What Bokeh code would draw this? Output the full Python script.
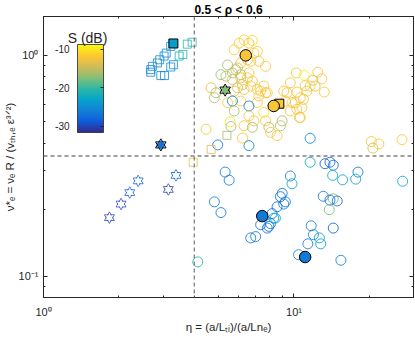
import numpy as np
from bokeh.plotting import figure
from bokeh.models import (ColumnDataSource, LinearColorMapper, ColorBar, Span, Label,
                          LogAxis, FixedTicker, Range1d)
from bokeh.transform import transform
from bokeh.embed import file_html
from bokeh.resources import INLINE

# ---------------- data (eta, nu*, S in dB) ----------------
circ_eta = [5.77, 6.04, 6.32, 6.61, 6.82, 7.14, 7.24, 7.70, 6.13, 6.52, 6.61, 6.82, 6.13, 5.86,
            5.68, 5.35, 5.11, 4.665, 4.81, 5.77, 6.32, 6.72, 7.36, 7.58, 7.24, 7.82, 6.13, 6.52,
            5.95, 5.95, 6.23, 6.92, 5.43, 5.68, 6.72, 4.88, 7.70, 7.14,
            5.43, 6.13, 7.14, 5.68, 6.61, 5.77, 5.56, 5.60, 6.23, 6.32, 6.61, 6.92, 6.82, 7.58,
            7.70, 7.94, 8.06, 8.56, 8.97, 8.83, 9.67, 10.59, 9.24, 10.59, 4.456, 4.96, 6.61,
            10.21, 10.98, 12.45, 12.9, 11.89, 11.08, 12.14, 13.21, 10.27, 10.91, 10.12, 10.76,
            10.52, 9.67, 9.10, 11.6, 11.26, 9.38, 9.82, 10.27,
            11.6, 20.36, 21.82, 20.65, 27.0,
            5.31, 5.51, 4.81, 5.11, 9.67, 9.82, 8.97, 8.83, 9.24, 8.56, 8.18, 8.30, 8.06, 7.36,
            7.82, 7.03, 6.72, 9.10, 8.43, 7.94, 4.13, 10.43, 11.6, 13.3, 13.92, 14.35, 14.27,
            15.63, 18.01, 17.64, 27.15, 13.09, 14.35, 13.92, 14.88, 13.83, 11.71, 14.35, 11.96,
            12.63, 11.36, 12.79, 15.39]
circ_nu = [1.06, 1.136, 1.175, 1.136, 1.168, 1.042, 0.94, 0.892, 0.924, 0.955, 0.833, 0.764, 0.818, 0.862,
           0.777, 0.805, 0.818, 0.713, 0.643, 0.689, 0.701, 0.726, 0.689, 0.726, 0.655, 0.677, 0.791, 0.791,
           0.877, 0.713, 0.738, 1.024, 0.905, 0.833, 0.94, 0.677, 0.677, 0.701,
           0.611, 0.621, 0.611, 0.621, 0.59, 0.56, 0.50, 0.476, 0.422, 0.48, 0.532, 0.505, 0.472, 0.551,
           0.505, 0.472, 0.448, 0.433, 0.505, 0.48, 0.56, 0.523, 0.621, 0.643, 0.463, 0.393, 0.39,
           0.833, 0.813, 0.839, 0.783, 0.772, 0.730, 0.726, 0.682, 0.682, 0.632, 0.611, 0.58,
           0.523, 0.751, 0.689, 0.726, 0.689, 0.677, 0.611, 0.57,
           0.421, 0.407, 0.397, 0.380, 0.415,
           0.296, 0.272, 0.217, 0.194, 0.284, 0.262, 0.237, 0.229, 0.217, 0.206, 0.192, 0.183, 0.173, 0.171,
           0.165, 0.151, 0.149, 0.212, 0.183, 0.168, 0.116, 0.125, 0.328, 0.323, 0.328, 0.318, 0.286,
           0.273, 0.296, 0.275, 0.269, 0.230, 0.224, 0.221, 0.219, 0.200, 0.169, 0.165, 0.154,
           0.149, 0.140, 0.140, 0.118]
circ_S = [-11.5, -11.5, -11, -11.5, -11, -12, -12, -12, -13.5, -12.5, -12, -12, -16, -15,
          -14, -15.5, -16.5, -13, -15.5, -13.5, -12.5, -12, -12, -12, -12, -12, -13.5, -12,
          -14, -14, -13, -11.5, -16, -16, -12.5, -16, -12, -12,
          -12, -12, -12, -25.5, -25.5, -16, -10, -16, -12, -12, -12, -12, -16, -10.5,
          -12, -15.5, -12, -12, -16, -15, -12, -12, -12, -12, -12, -26.5, -25.5,
          -12, -9.5, -12, -12, -13.5, -12, -13.5, -11.5, -12, -12, -12, -12,
          -12, -12, -12, -12, -12, -12, -12, -12,
          -25.5, -12, -12, -14, -11.5,
          -26, -26, -26, -26.5, -26, -22.5, -27, -27.5, -26, -27.5, -27, -22.5, -27, -27,
          -26.5, -26.5, -26.5, -26, -22.5, -27, -20.5, -26, -22.5, -28.5, -27.5, -27.5, -22.5,
          -22.5, -26.5, -22.5, -22.5, -26, -18, -27.5, -27.5, -18, -26, -28.5, -26,
          -23.5, -26, -23.5, -26]

sq_eta = [2.68, 2.72, 2.85, 2.91, 3.03, 3.09, 3.22, 2.68, 2.94, 3.04, 3.22, 3.30, 3.48, 3.60,
          3.75, 3.92, 3.96, 4.67, 5.40]
sq_nu = [0.862, 0.892, 0.924, 0.955, 0.993, 1.024, 1.098, 0.839, 0.810, 0.810, 0.886, 0.907, 0.993,
         1.010, 1.124, 1.147, 0.328, 0.375, 0.434]
sq_S = [-25.5, -25, -25.5, -25, -25, -25, -24.5, -25.5, -25, -25.5, -25, -25, -22, -21.5,
        -20.5, -20.5, -13, -14, -16]

star_eta = [1.833, 2.04, 2.21, 2.387, 3.15, 3.38]
star_nu = [0.184, 0.212, 0.239, 0.270, 0.247, 0.286]
star_S = [-30.5, -30, -28.5, -28.5, -30.5, -28.5]

fcirc_eta = [6.42, 8.30, 7.47, 11.08]
fcirc_nu = [1.0, 0.59, 0.187, 0.122]
fcirc_S = [-12, -12, -26.5, -26.5]

fsq_eta = [3.30, 8.74]
fsq_nu = [1.132, 0.604]
fsq_S = [-23.5, -12]

fstar_eta = [2.94, 5.31]
fstar_nu = [0.393, 0.696]
fstar_S = [-27, -17.5]

S_LOW, S_HIGH = -31.6, -8.7
ETA_SPLIT = 4.0
NU_SPLIT = 0.35
x_major = [1, 10]
x_major_labels = ["10⁰", "10¹"]
x_minor = [2, 3, 4, 5, 6, 7, 8, 9, 20, 30]
y_major = [0.1, 1]
y_major_labels = ["10⁻¹", "10⁰"]
y_minor = [0.08, 0.09, 0.2, 0.3, 0.4, 0.5, 0.6, 0.7, 0.8, 0.9]
cbar_ticks = [-30, -20, -10]
cbar_tick_labels = ["-30", "-20", "-10"]

TITLE = "0.5 < ρ < 0.6"
XLABEL = "η = (a/Lₜᵢ)/(a/Lnₑ)"
YLABEL = "ν*ₑ = νₑ R / (vₜₕ,ₑ ε³ᐟ²)"
CB_TITLE = "S (dB)"

# ---------------- palette (parula) ----------------
parula_stops = ["#352a87", "#0f5cdd", "#1481d6", "#06a4ca", "#2eb7a4",
                "#87bf77", "#d1bb59", "#fec832", "#f9fb0e"]


def make_palette(stops, n=256):
    rgb = np.array([[int(s[i:i + 2], 16) for i in (1, 3, 5)] for s in stops], float)
    pos = np.linspace(0, 1, len(stops))
    out = []
    for t in np.linspace(0, 1, n):
        c = [int(round(np.interp(t, pos, rgb[:, k]))) for k in range(3)]
        out.append("#%02x%02x%02x" % tuple(c))
    return out


palette = make_palette(parula_stops)
mapper = LinearColorMapper(palette=palette, low=S_LOW, high=S_HIGH)
col = transform("S", mapper)

FONT = "Liberation Sans"
TXT = "#262626"

W, H = 415, 346
BL, BR, BT, BB = 41, 2, 13, 49

p = figure(width=W, height=H, x_axis_type="log", y_axis_type="log",
           x_range=Range1d(1, 30), y_range=Range1d(0.08, 1.5),
           output_backend="svg", toolbar_location=None,
           min_border_left=BL, min_border_right=BR, min_border_top=BT, min_border_bottom=BB)
p.grid.visible = False
p.outline_line_color = TXT
p.outline_line_width = 1
p.background_fill_color = "white"
p.border_fill_color = "white"

p.title.text = TITLE
p.title.text_font = FONT
p.title.text_font_size = "12px"
p.title.text_font_style = "bold"
p.title.text_color = "black"
p.title.align = "center"
p.title.standoff = 0
p.title.offset = 0


def style_axis(ax, ticks, minor, labels=None):
    ax.ticker = FixedTicker(ticks=ticks, minor_ticks=minor)
    ax.major_tick_in = 4
    ax.major_tick_out = 0
    ax.minor_tick_in = 2
    ax.minor_tick_out = 0
    ax.axis_line_color = TXT
    ax.major_tick_line_color = TXT
    ax.minor_tick_line_color = TXT
    if labels is None:
        ax.major_label_text_color = None
        ax.major_label_text_font_size = "1px"
        ax.major_label_standoff = 0
    else:
        ax.major_label_overrides = {float(t): s for t, s in zip(ticks, labels)}
        ax.major_label_text_font = FONT
        ax.major_label_text_font_size = "11px"
        ax.major_label_text_color = TXT
        ax.axis_label_text_font = FONT
        ax.axis_label_text_font_size = "11.5px"
        ax.axis_label_text_font_style = "normal"
        ax.axis_label_text_color = TXT
        ax.axis_label_standoff = 0


style_axis(p.xaxis[0], x_major, x_minor, x_major_labels)
style_axis(p.yaxis[0], y_major, y_minor, y_major_labels)
p.xaxis[0].axis_label = XLABEL
p.xaxis[0].major_label_standoff = 8
p.yaxis[0].axis_label = YLABEL
p.yaxis[0].major_label_standoff = 5
top_ax = LogAxis()
right_ax = LogAxis()
style_axis(top_ax, x_major, x_minor)
style_axis(right_ax, y_major, y_minor)
p.add_layout(top_ax, "above")
p.add_layout(right_ax, "right")

# reference lines
for loc, dim in ((ETA_SPLIT, "height"), (NU_SPLIT, "width")):
    p.add_layout(Span(location=loc, dimension=dim, line_color="#808080",
                      line_dash="4 3", line_width=1.3))

# ---------------- marks ----------------
src_c = ColumnDataSource(dict(eta=circ_eta, nu=circ_nu, S=circ_S))
src_s = ColumnDataSource(dict(eta=sq_eta, nu=sq_nu, S=sq_S))
src_st = ColumnDataSource(dict(eta=star_eta, nu=star_nu, S=star_S))
src_fc = ColumnDataSource(dict(eta=fcirc_eta, nu=fcirc_nu, S=fcirc_S))
src_fs = ColumnDataSource(dict(eta=fsq_eta, nu=fsq_nu, S=fsq_S))
src_fst = ColumnDataSource(dict(eta=fstar_eta, nu=fstar_nu, S=fstar_S))

p.scatter("eta", "nu", source=src_c, marker="circle", size=10, fill_color=None,
          line_color=col, line_width=1, line_alpha=0.85)
p.scatter("eta", "nu", source=src_s, marker="square", size=8, fill_color=None,
          line_color=col, line_width=1, line_alpha=0.8)


def hexagram(src, size, fill, line, lw, alpha=1.0):
    for m in ("triangle", "inverted_triangle"):
        p.scatter("eta", "nu", source=src, marker=m, size=size, fill_color=None,
                  line_color=line, line_width=lw, line_alpha=alpha)
    for m in ("triangle", "inverted_triangle"):
        p.scatter("eta", "nu", source=src, marker=m, size=size - 2.4, fill_color=fill,
                  line_color=None)


hexagram(src_st, 10, "white", col, 1, 0.75)
p.scatter("eta", "nu", source=src_fs, marker="square", size=9, fill_color=col,
          line_color="black", line_width=1)
p.scatter("eta", "nu", source=src_fc, marker="circle", size=11.5, fill_color=col,
          line_color="black", line_width=1)
hexagram(src_fst, 10.5, col, "black", 1)

# ---------------- colour bar (inside the axes) ----------------
CB_X, CB_Y, CB_W, CB_H = 34, 165, 26, 88
cb = ColorBar(color_mapper=mapper, location=(CB_X, CB_Y), width=CB_W, height=CB_H,
              orientation="vertical", padding=0, margin=0,
              ticker=FixedTicker(ticks=cbar_ticks), major_label_text_color=None,
              major_label_text_font_size="10px",
              major_tick_in=3, major_tick_out=0, major_tick_line_color=TXT,
              bar_line_color=TXT, bar_line_width=0.8,
              background_fill_alpha=0, border_line_color=None)
p.add_layout(cb, "center")

for v, s in zip(cbar_ticks, cbar_tick_labels):
    yy = CB_Y + (v - S_LOW) / (S_HIGH - S_LOW) * CB_H
    p.add_layout(Label(x=CB_X - 8, y=yy, x_units="screen", y_units="screen", text=s,
                       text_font=FONT, text_font_size="10px", text_color=TXT,
                       text_align="right", text_baseline="middle"))
p.add_layout(Label(x=CB_X + 10, y=CB_Y + CB_H + 7, x_units="screen", y_units="screen",
                   text=CB_TITLE, text_font=FONT, text_font_size="14px", text_color=TXT,
                   text_align="center", text_baseline="alphabetic"))

open("out.html", "w").write(file_html(p, INLINE))
